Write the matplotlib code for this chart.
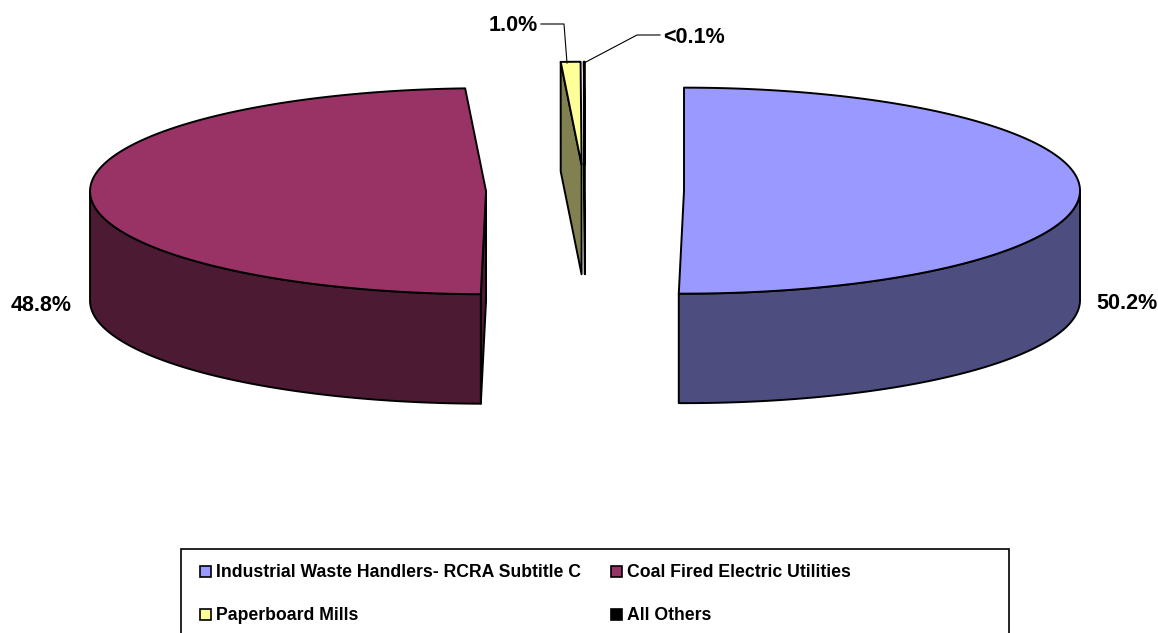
import numpy as np
import matplotlib
matplotlib.use("Agg")
import matplotlib.pyplot as plt
from matplotlib.patches import Polygon, Rectangle

plt.rcParams["font.family"] = ["Liberation Sans", "DejaVu Sans"]

categories = ["Industrial Waste Handlers- RCRA Subtitle C", "Coal Fired Electric Utilities",
              "Paperboard Mills", "All Others"]
shares = [50.2, 48.8, 1.0, 0.05]
value_labels = ["50.2%", "48.8%", "1.0%", "<0.1%"]

top_colors = ["#9999FF", "#993366", "#FFFF99", "#000000"]
side_colors = ["#4D4D80", "#4D1A33", "#808050", "#000000"]

# pie geometry in pixels
cx, cy = 585, 190.5
rx, ry = 396, 103
depth = 109.5
explode = 99
perspective = 0.2  # front of the pie looks wider than the back

fig = plt.figure(figsize=(11.58, 6.33), dpi=100)
ax = fig.add_axes([0, 0, 1, 1])
ax.set_xlim(0, 1158)
ax.set_ylim(633, 0)
ax.axis("off")


def rim(x0, y0, a):
    # a runs clockwise from 12 o'clock, in radians
    return np.column_stack([x0 + rx * np.sin(a), y0 - ry * np.cos(a)])


def add_poly(pts, color, lw=1.4):
    ax.add_patch(Polygon(pts, closed=True, facecolor=color, edgecolor="black",
                         linewidth=lw, joinstyle="round"))


edges = np.cumsum([0] + shares) / sum(shares) * 2 * np.pi
shown = edges - perspective * np.sin(edges)
down = np.array([0, depth])

for i in range(len(shares)):
    a0, a1 = shown[i], shown[i + 1]
    mid = (edges[i] + edges[i + 1]) / 2
    x0 = cx + explode * np.sin(mid)
    y0 = cy - explode * ry / rx * np.cos(mid)
    apex = np.array([x0, y0])

    # cut faces first, the one facing the viewer depends on the slice angle
    if np.sin(a0) < 0:
        p = rim(x0, y0, np.array([a0]))[0]
        add_poly([p, apex, apex + down, p + down], side_colors[i])
    if np.sin(a1) > 0:
        p = rim(x0, y0, np.array([a1]))[0]
        add_poly([p, apex, apex + down, p + down], side_colors[i])

    # outer wall, only the front half of the rim shows
    lo, hi = max(a0, np.pi / 2), min(a1, 3 * np.pi / 2)
    if hi > lo:
        arc = rim(x0, y0, np.linspace(lo, hi, 120))
        add_poly(np.vstack([arc, arc[::-1] + down]), side_colors[i])

    top = rim(x0, y0, np.linspace(a0, a1, 240))
    add_poly(np.vstack([apex, top]), top_colors[i])

# value labels and leader lines
label_font = dict(fontsize=15.5, fontweight="bold", va="baseline")
ax.text(1158, 309, value_labels[0], ha="right", **label_font)
ax.text(11, 311, value_labels[1], ha="left", **label_font)
ax.text(538, 31, value_labels[2], ha="right", **label_font)
ax.text(663, 43, value_labels[3], ha="left", **label_font)
ax.plot([541, 564, 567], [24, 24, 63], color="black", linewidth=0.8)
ax.plot([584, 637, 660], [63, 35, 35], color="black", linewidth=0.8)

# legend box runs off the bottom of the figure
ax.add_patch(Rectangle((181, 549), 828, 120, facecolor="white", edgecolor="black", linewidth=1.2))
legend_x = [200, 611, 200, 611]
legend_y = [572, 572, 615, 615]
for i, name in enumerate(categories):
    ax.add_patch(Rectangle((legend_x[i], legend_y[i] - 6), 11, 11, facecolor=top_colors[i],
                           edgecolor="black", linewidth=1.2))
    ax.text(legend_x[i] + 16, legend_y[i] + 5, name, ha="left", va="baseline",
            fontsize=12.7, fontweight="bold")

fig.savefig("out.png", dpi=100)
